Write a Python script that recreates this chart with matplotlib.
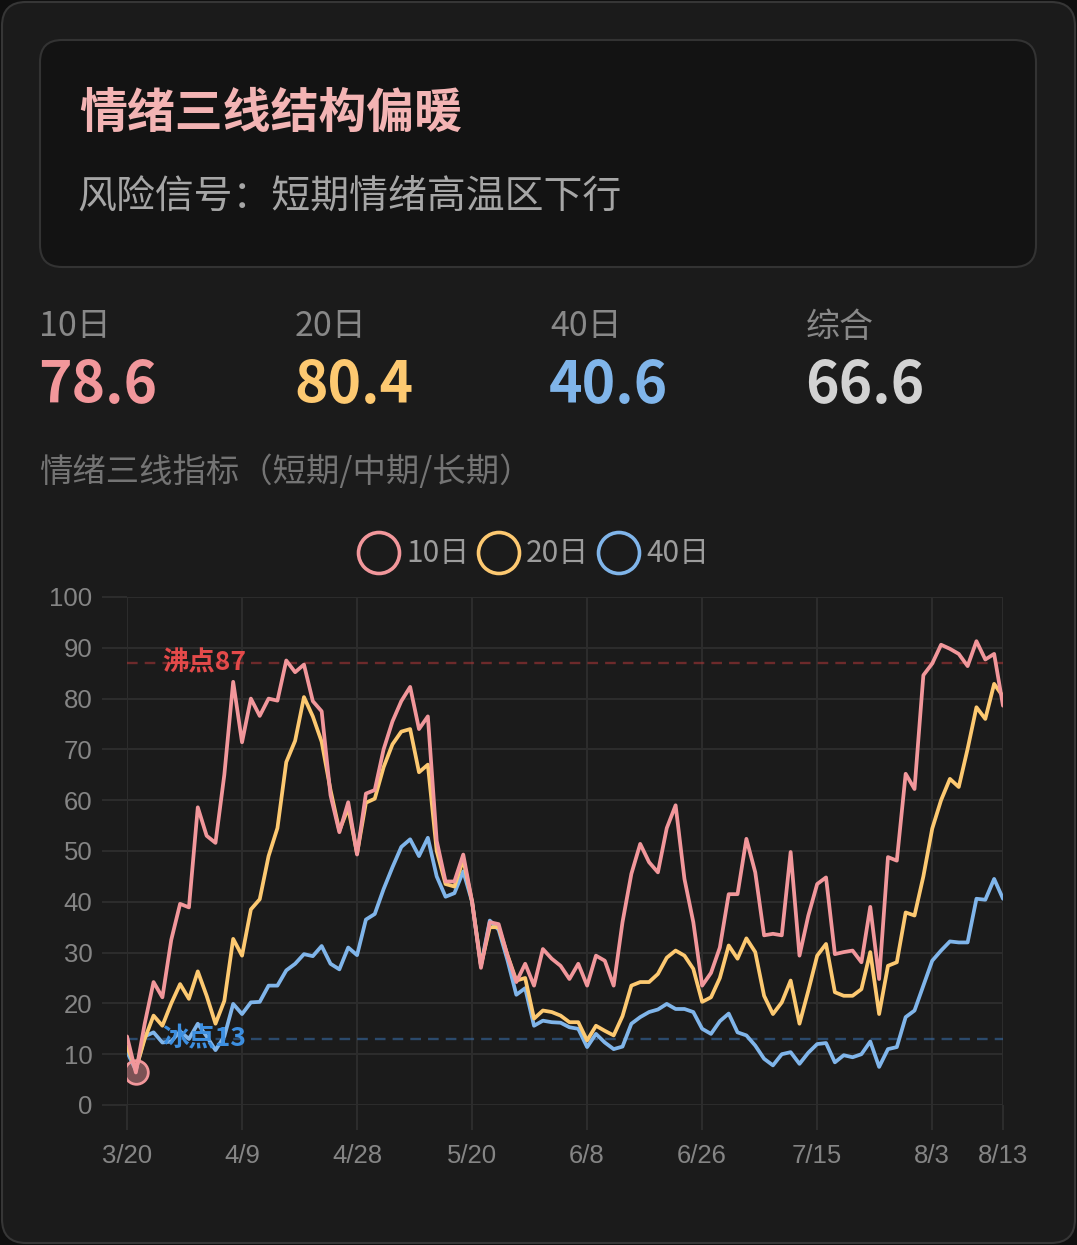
import matplotlib
matplotlib.use("Agg")
import matplotlib.pyplot as plt
from matplotlib.patches import FancyBboxPatch, Circle
import numpy as np

plt.rcParams['font.family'] = ['Noto Sans CJK SC', 'DejaVu Sans']

# ---------------- data ----------------
tick_pos = [0, 13, 26, 39, 52, 65, 78, 91, 99]
tick_labels = ['3/20', '4/9', '4/28', '5/20', '6/8', '6/26', '7/15', '8/3', '8/13']

series_names = ['10日', '20日', '40日']

line10 = [13.5, 6.4, 16, 24.2, 21.2, 32.5, 39.6, 38.9, 58.6, 53,
          51.6, 65, 83.3, 71.4, 80, 76.6, 80, 79.6, 87.5, 85.2,
          86.7, 79.5, 77.5, 61, 53.7, 59.6, 49.3, 61.3, 62, 70,
          75.5, 79.5, 82.3, 74, 76.5, 52, 44, 44, 49.3, 40,
          27, 36, 35.6, 29.4, 24.2, 27.8, 23.5, 30.7, 28.8, 27.4,
          24.8, 27.8, 23.5, 29.4, 28.4, 23.5, 36, 45.5, 51.4, 47.8,
          45.8, 54.5, 59, 44.5, 36, 23.5, 26, 31, 41.5, 41.5,
          52.4, 45.8, 33.4, 33.7, 33.4, 49.8, 29.4, 37.3, 43.5, 44.8,
          29.7, 30.1, 30.4, 28.1, 39, 24.8, 48.8, 48.1, 65.2, 62.2,
          84.6, 86.9, 90.6, 89.8, 88.8, 86.4, 91.3, 87.7, 88.8, 78.6]

line20 = [11.5, 7.1, 13, 17.6, 15.6, 20, 23.8, 20.9, 26.3, 21.5,
          16, 20.5, 32.7, 29.4, 38.5, 40.5, 49, 54.5, 67.5, 71.7,
          80.3, 76.5, 71.5, 62, 54, 58.5, 49.5, 59.5, 60.3, 66.5,
          71, 73.5, 74, 65.5, 67, 50, 43.5, 43, 48.3, 40,
          27.5, 35, 35, 29.5, 24.5, 25, 17, 18.6, 18.3, 17.6,
          16.3, 16.3, 12.7, 15.6, 14.6, 13.7, 17.5, 23.5, 24.2, 24.2,
          25.8, 29, 30.4, 29.4, 26.8, 20.3, 21.2, 25, 31.4, 28.8,
          32.8, 30.1, 21.5, 17.9, 20.2, 24.5, 16, 22.5, 29.4, 31.7,
          22.2, 21.5, 21.5, 22.8, 30.1, 17.9, 27.4, 28.1, 37.9, 37.3,
          45, 54.4, 60, 64.2, 62.6, 70.1, 78.3, 76, 82.9, 80.4]

line40 = [10.5, 6.8, 13.5, 14.3, 12.3, 12.5, 14.5, 13, 16, 13.5,
          10.8, 13.5, 19.9, 17.9, 20.2, 20.3, 23.5, 23.5, 26.5, 27.8,
          29.7, 29.3, 31.3, 27.8, 26.7, 31, 29.5, 36.5, 37.6, 42.5,
          46.8, 50.8, 52.3, 49, 52.6, 45, 41, 41.7, 46, 40,
          27.5, 36.3, 34.5, 28.5, 21.7, 23, 15.6, 16.6, 16.3, 16.2,
          15.3, 15, 11.4, 14, 12.3, 11, 11.5, 16, 17.3, 18.3,
          18.8, 19.9, 18.9, 18.9, 18.3, 15, 14, 16.5, 18, 14.3,
          13.7, 11.7, 9.1, 7.8, 10, 10.4, 8.1, 10.3, 12, 12.2,
          8.4, 9.8, 9.4, 10, 12.5, 7.5, 11, 11.4, 17.3, 18.6,
          23.5, 28.4, 30.4, 32.2, 32, 32, 40.6, 40.4, 44.5, 40.6]

stat_labels = ['10日', '20日', '40日', '综合']
stat_values = ['78.6', '80.4', '40.6', '66.6']

boil_value = 87
freeze_value = 13

# ---------------- styles ----------------
W, H = 1077, 1245
C_PINK = '#f2979b'
C_YEL = '#fdc971'
C_BLUE = '#80b5ea'
C_GRID = '#2c2c2c'
C_TICK = '#858585'

fig = plt.figure(figsize=(W / 100, H / 100), dpi=100)
fig.patch.set_facecolor('#0f0f0f')

bg = fig.add_axes([0, 0, 1, 1])
bg.set_xlim(0, W)
bg.set_ylim(H, 0)
bg.axis('off')
bg.set_zorder(0)

bg.add_patch(FancyBboxPatch((2, 2), W - 4, H - 4, boxstyle="round,pad=0,rounding_size=24",
                            facecolor='#1b1b1b', edgecolor='#363636', linewidth=1.5))
bg.add_patch(FancyBboxPatch((40, 40), 996, 227, boxstyle="round,pad=0,rounding_size=22",
                            facecolor='#131313', edgecolor='#333333', linewidth=1.5))

bg.text(79, 113, '情绪三线结构偏暖', fontsize=34.5, fontweight='bold', color='#f3b4b4',
        ha='left', va='center')
bg.text(77, 197, '风险信号：短期情绪高温区下行', fontsize=28, color='#a6a6a6',
        ha='left', va='center')

stat_x = [40, 296, 551, 807]
stat_colors = [C_PINK, C_YEL, C_BLUE, '#d2d2d2']
for sx, lab, val, col in zip(stat_x, stat_labels, stat_values, stat_colors):
    bg.text(sx - 1, 327, lab, fontsize=24.5, color='#888888', ha='left', va='center')
    bg.text(sx - 2, 386, val, fontsize=41, fontweight='bold', color=col, ha='left', va='center')

bg.text(39, 472, '情绪三线指标（短期/中期/长期）', fontsize=24, color='#747474',
        ha='left', va='center')

# legend (manual)
leg_cx = [379, 499, 619]
for cx, name, col in zip(leg_cx, series_names, [C_PINK, C_YEL, C_BLUE]):
    bg.add_patch(Circle((cx, 553), 20.5, facecolor='#1b1b1b', edgecolor=col, linewidth=2.6))
    bg.text(cx + 27, 554, name, fontsize=21.5, color='#9c9c9c', ha='left', va='center')

# ---------------- chart ----------------
ax = fig.add_axes([127 / W, 1 - 1105 / H, 876 / W, 508 / H])
ax.set_zorder(1)
ax.patch.set_alpha(0)
x = np.arange(len(line10))
ax.set_xlim(0, len(line10) - 1)
ax.set_ylim(0, 100)

yt = list(range(0, 101, 10))
ax.set_yticks(yt)
ax.set_yticklabels([str(v) for v in yt])
ax.set_xticks(tick_pos)
ax.set_xticklabels(tick_labels)
for lab in ax.get_xticklabels() + ax.get_yticklabels():
    lab.set_fontfamily('Liberation Sans')
    lab.set_fontsize(18.5)
    lab.set_color(C_TICK)
ax.tick_params(axis='both', length=18, width=1.5, color=C_GRID)
ax.tick_params(axis='y', pad=7)
ax.tick_params(axis='x', pad=10)
ax.grid(True, color=C_GRID, linewidth=1.5, zorder=0)
ax.set_axisbelow(True)
for s in ax.spines.values():
    s.set_visible(False)

ax.axhline(boil_value, color='#c0393b', alpha=0.5, linewidth=1.7, dashes=(4.5, 3), zorder=1)
ax.axhline(freeze_value, color='#3a72b0', alpha=0.55, linewidth=1.7, dashes=(4.5, 3), zorder=1)

lw = 2.7
ax.plot(x, line40, color=C_BLUE, linewidth=lw, solid_joinstyle='round', solid_capstyle='round', zorder=2)
ax.plot(x, line20, color=C_YEL, linewidth=lw, solid_joinstyle='round', solid_capstyle='round', zorder=3)
ax.plot(x, line10, color=C_PINK, linewidth=lw, solid_joinstyle='round', solid_capstyle='round', zorder=4)
ax.plot([x[1]], [line10[1]], 'o', markersize=17, markerfacecolor=(0.95, 0.59, 0.61, 0.45),
        markeredgecolor=C_PINK, markeredgewidth=2, zorder=5)

ax.text(3.95, boil_value, '沸点87', fontsize=19, fontweight='bold', color='#e44a4a',
        ha='left', va='center', zorder=6)
ax.text(3.95, freeze_value, '冰点13', fontsize=19, fontweight='bold', color='#3d8fe0',
        ha='left', va='center', zorder=6)

fig.savefig('out.png', dpi=100, facecolor=fig.get_facecolor())
